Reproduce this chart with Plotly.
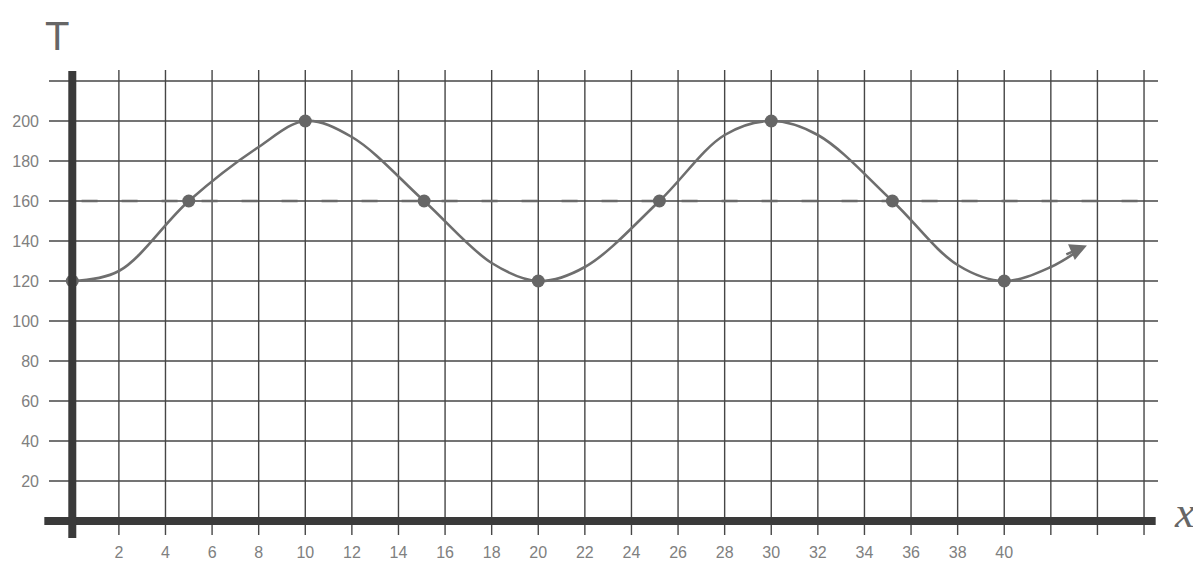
import plotly.graph_objects as go

# ---- data ----
# marked points
x_points = [0, 5, 10, 15.1, 20, 25.2, 30, 35.2, 40]
t_points = [120, 160, 200, 160, 120, 160, 200, 160, 120]
# the hand-drawn curve, read at grid lines and at the marked points
x_curve = [0, 2, 5, 8, 10, 12, 15.1, 18, 20, 22, 25.2, 28, 30, 32, 35.2, 38, 40, 42, 43.4]
t_curve = [120, 125, 160, 187, 200, 192, 160, 129, 120, 127, 160, 193, 200, 193, 160, 128, 120, 127, 137]
midline_t = 160

x_ticks = [2, 4, 6, 8, 10, 12, 14, 16, 18, 20, 22, 24, 26, 28, 30, 32, 34, 36, 38, 40]
x_tick_text = ["2", "4", "6", "8", "10", "12", "14", "16", "18", "20", "22", "24", "26", "28", "30", "32", "34", "36", "38", "40"]
x_grid = list(range(2, 47, 2))
y_ticks = [20, 40, 60, 80, 100, 120, 140, 160, 180, 200]
y_tick_text = ["20", "40", "60", "80", "100", "120", "140", "160", "180", "200"]
y_grid = list(range(20, 221, 20))

X_MIN, X_MAX = -1.3, 46.9
Y_MIN, Y_MAX = -10, 226

grid_col = "#464646"
curve_col = "#6e6e6e"
axis_col = "#3a3a3a"

fig = go.Figure()

shapes = []
for gx in x_grid:
    shapes.append(dict(type="line", xref="x", yref="y", x0=gx, x1=gx, y0=-7, y1=225.5,
                       line=dict(color=grid_col, width=1.4), layer="below"))
for gy in y_grid:
    shapes.append(dict(type="line", xref="x", yref="y", x0=-1.0, x1=46.6, y0=gy, y1=gy,
                       line=dict(color=grid_col, width=1.4), layer="below"))
# dashed midline
shapes.append(dict(type="line", xref="x", yref="y", x0=0.4, x1=46.3, y0=midline_t, y1=midline_t,
                   line=dict(color="#6a6a6a", width=2.6, dash="16px,24px"), layer="below"))
# thick axes
shapes.append(dict(type="line", xref="x", yref="y", x0=-1.2, x1=46.5, y0=0, y1=0,
                   line=dict(color=axis_col, width=8), layer="above"))
shapes.append(dict(type="line", xref="x", yref="y", x0=0, x1=0, y0=-8.5, y1=225,
                   line=dict(color=axis_col, width=8), layer="above"))

fig.add_trace(go.Scatter(
    x=x_curve, y=t_curve,
    mode="lines", line=dict(color=curve_col, width=2.6, shape="spline", smoothing=1.0),
    hoverinfo="skip", showlegend=False))
fig.add_trace(go.Scatter(
    x=x_points, y=t_points, mode="markers",
    marker=dict(color="#666666", size=13), showlegend=False))

annotations = [
    dict(x=x_curve[-1] + 0.15, y=t_curve[-1] + 0.8, ax=x_curve[-1] - 0.8, ay=t_curve[-1] - 4,
         xref="x", yref="y", axref="x", ayref="y", text="", showarrow=True,
         arrowhead=2, arrowsize=1.3, arrowwidth=2.6, arrowcolor=curve_col),
    dict(x=0.0134, y=1.07, xref="paper", yref="paper", text="T", showarrow=False,
         font=dict(family="Liberation Sans", size=40, color="#666"), xanchor="center", yanchor="middle"),
    dict(x=1.0178, y=4.5, xref="paper", yref="y", text="<i>x</i>", showarrow=False,
         font=dict(family="Liberation Serif", size=44, color="#666"), xanchor="center", yanchor="middle"),
]

fig.update_layout(
    width=1193, height=553,
    margin=dict(l=34, r=36, t=61, b=20),
    paper_bgcolor="white", plot_bgcolor="white",
    shapes=shapes, annotations=annotations,
    xaxis=dict(range=[X_MIN, X_MAX], showgrid=False, zeroline=False, showline=False,
               automargin=False,
               tickmode="array", tickvals=x_ticks, ticktext=x_tick_text, ticks="",
               tickfont=dict(family="Liberation Sans", size=16, color="#808080")),
    yaxis=dict(range=[Y_MIN, Y_MAX], showgrid=False, zeroline=False, showline=False,
               automargin=False,
               tickmode="array", tickvals=y_ticks, ticktext=y_tick_text, ticks="",
               ticklabelstandoff=2,
               tickfont=dict(family="Liberation Sans", size=16, color="#808080")),
)

fig.write_html("out.html")
